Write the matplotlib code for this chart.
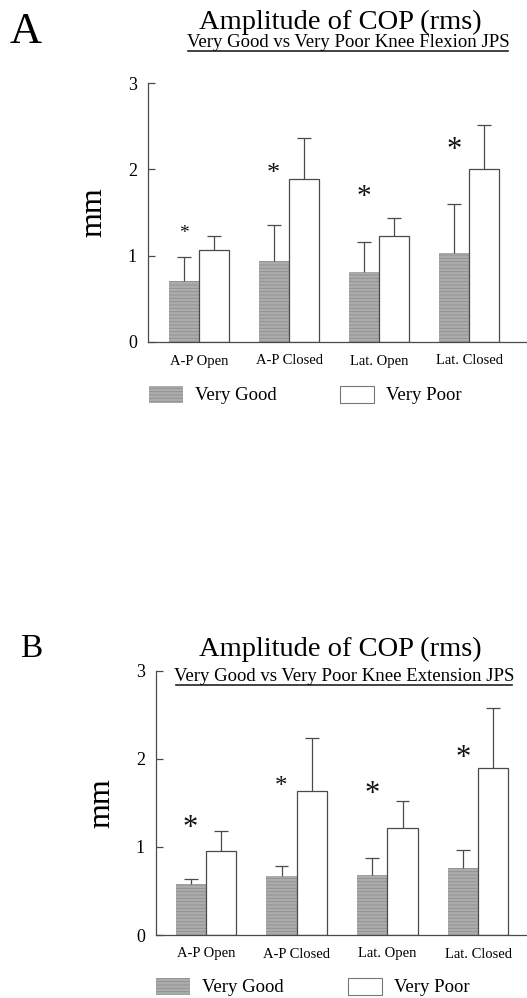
import numpy as np
import matplotlib
matplotlib.use("Agg")
import matplotlib.pyplot as plt
from matplotlib.patches import Rectangle
from matplotlib.lines import Line2D

plt.rcParams['font.family'] = ['Liberation Serif', 'DejaVu Serif']
plt.rcParams['hatch.linewidth'] = 0.6

# data
categories = ["A-P Open", "A-P Closed", "Lat. Open", "Lat. Closed"]
series_names = ["Very Good", "Very Poor"]

flex_good = [0.71, 0.94, 0.81, 1.03]
flex_good_sd = [0.27, 0.42, 0.35, 0.57]
flex_poor = [1.06, 1.89, 1.23, 2.00]
flex_poor_sd = [0.17, 0.47, 0.21, 0.51]
flex_stars = [1.26, 1.95, 1.68, 2.22]

ext_good = [0.58, 0.67, 0.68, 0.76]
ext_good_sd = [0.05, 0.11, 0.19, 0.20]
ext_poor = [0.95, 1.64, 1.21, 1.89]
ext_poor_sd = [0.23, 0.60, 0.31, 0.69]
ext_stars = [1.21, 1.68, 1.59, 2.00]

W, H = 527, 998
fig = plt.figure(figsize=(W / 100, H / 100), dpi=100)

GRAY = '#acacac'
LINE = '#4a4a4a'


def fx(px):
    return px / W


def fy(py):
    return 1 - py / H


def draw_panel(box, xlim, good, good_sd, poor, poor_sd, stars, star_sizes):
    ax = fig.add_axes(box)
    x = np.arange(len(categories))
    w = 1 / 3
    ax.bar(x - w / 2, good, w, color=GRAY, edgecolor='#8e8e8e', linewidth=0,
           hatch='-----')
    ax.bar(x + w / 2, poor, w, color='white', edgecolor=LINE, linewidth=0.9)
    cap = 0.075
    for xs, v, e in [(x - w / 2, good, good_sd), (x + w / 2, poor, poor_sd)]:
        v = np.array(v)
        e = np.array(e)
        ax.vlines(xs, v, v + e, color=LINE, linewidth=0.9)
        ax.hlines(v + e, xs - cap, xs + cap, color=LINE, linewidth=0.9)
    for i, (s, fs) in enumerate(zip(stars, star_sizes)):
        ax.text(i - 0.17, s, '*', fontsize=fs, ha='center', va='center',
                color='#111111')
    ax.set_xlim(*xlim)
    ax.set_ylim(0, 3)
    ax.set_yticks([0, 1, 2, 3])
    ax.set_xticks(x)
    ax.set_xticklabels(categories, fontsize=10.5)
    ax.tick_params(axis='x', length=0, pad=9)
    ax.tick_params(axis='y', direction='in', length=5, width=0.9, pad=8,
                   labelsize=13, color=LINE)
    for s in ['top', 'right']:
        ax.spines[s].set_visible(False)
    for s in ['left', 'bottom']:
        ax.spines[s].set_color(LINE)
        ax.spines[s].set_linewidth(0.9)
    ax.set_ylabel('mm', fontsize=23, labelpad=14)
    return ax


def header(letter, letter_xy, letter_fs, title_y, sub, sub_y, sub_x0, sub_x1):
    fig.text(fx(letter_xy[0]), fy(letter_xy[1]), letter, fontsize=letter_fs,
             ha='left', va='baseline')
    fig.text(fx(340), fy(title_y), "Amplitude of COP (rms)", fontsize=20.5,
             ha='center', va='baseline')
    fig.text(fx((sub_x0 + sub_x1) / 2), fy(sub_y), sub, fontsize=13.5,
             ha='center', va='baseline')
    fig.add_artist(Line2D([fx(sub_x0), fx(sub_x1)], [fy(sub_y + 4)] * 2,
                          color='#222222', linewidth=1.2))


def legend(x_good, x_poor, y_top):
    for (xp, name, fc, ec) in [(x_good, series_names[0], GRAY, '#8e8e8e'),
                               (x_poor, series_names[1], 'white', '#777777')]:
        r = Rectangle((fx(xp), fy(y_top + 17)), 34 / W, 17 / H,
                      transform=fig.transFigure, facecolor=fc, edgecolor=ec,
                      linewidth=0.8 if fc == 'white' else 0,
                      hatch='-----' if fc != 'white' else None)
        fig.add_artist(r)
        fig.text(fx(xp + 46), fy(y_top + 9), name, fontsize=13.5,
                 ha='left', va='center')


# panel A
draw_panel([fx(148), fy(342), 379 / W, (342 - 83) / H], (-0.567, 3.644),
           flex_good, flex_good_sd, flex_poor, flex_poor_sd, flex_stars,
           [14, 19, 21, 22])
header("A", (10, 43), 32, 29, "Very Good vs Very Poor Knee Flexion JPS", 47,
       188, 508)
legend(149, 340, 386)

# panel B
draw_panel([fx(156), fy(935), 371 / W, (935 - 670.7) / H], (-0.551, 3.539),
           ext_good, ext_good_sd, ext_poor, ext_poor_sd, ext_stars,
           [22, 18, 22, 22])
header("B", (20, 657), 24, 656, "Very Good vs Very Poor Knee Extension JPS",
       681, 176, 512)
legend(156, 348, 978)

fig.savefig("out.png", dpi=100)
